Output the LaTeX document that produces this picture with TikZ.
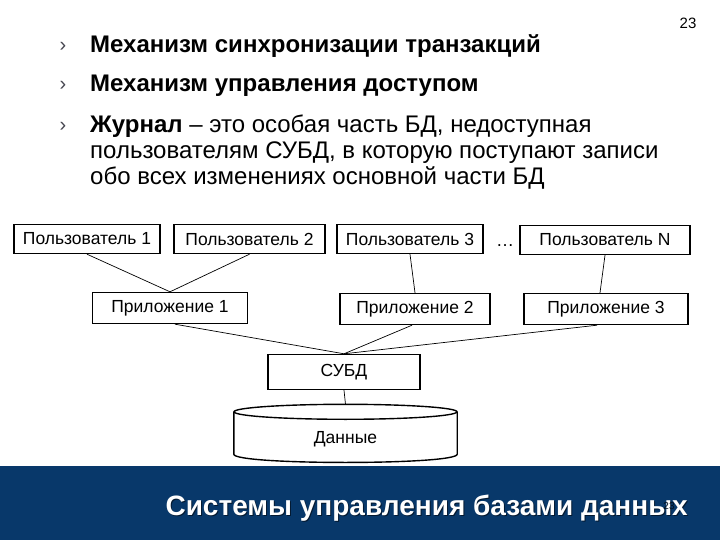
\documentclass[tikz,border=0pt]{standalone}
\usepackage{fontspec}
\setmainfont{Liberation Sans}
\usepackage{xcolor}
\definecolor{footblue}{RGB}{8,56,106}
\definecolor{bulletgrey}{RGB}{70,70,80}

\begin{document}
\begin{tikzpicture}[x=1pt, y=-1pt,
    userbox/.style={draw, line width=1.4pt, minimum width=146pt, minimum height=29pt, inner sep=0pt, font=\fontsize{17.5}{20}\selectfont},
    appbox/.style={userbox, minimum width=155pt, minimum height=31pt},
    link/.style={line width=0.7pt},
    bullet/.style={anchor=base, text=bulletgrey, font=\fontsize{20}{22}\selectfont},
    item/.style={anchor=base west, inner sep=0pt, font=\fontsize{24}{26}\selectfont}
]
    \useasboundingbox (0,0) rectangle (720,540);
    \fill[white] (0,0) rectangle (720,540);

    % page number
    \node[anchor=base, font=\fontsize{15}{16}\selectfont] (pageno) at (688,29) {23};

    % bullet list
    \node[bullet] (b1) at (63,52) {›};
    \node[item] (t1) at (90,53) {\bfseries Механизм синхронизации транзакций};
    \node[bullet] (b2) at (63,91) {›};
    \node[item] (t2) at (90,92) {\bfseries Механизм управления доступом};
    \node[bullet] (b3) at (63,132) {›};
    \node[item] (t3) at (90,133) {\textbf{Журнал} – это особая часть БД, недоступная};
    \node[item] (t4) at (90,159) {пользователям СУБД, в которую поступают записи};
    \node[item] (t5) at (90,185) {обо всех изменениях основной части БД};

    % users
    \node[userbox] (u1) at (87,239)  {Пользователь 1};
    \node[userbox, minimum width=151pt] (u2) at (249.5,239) {Пользователь 2};
    \node[userbox] (u3) at (410,239) {Пользователь 3};
    \node[anchor=base, font=\fontsize{18}{20}\selectfont] (dots) at (505,246) {…};
    \node[userbox, minimum width=170pt] (un) at (605,240) {Пользователь N};

    % applications
    \node[appbox] (a1) at (170,308) {Приложение 1};
    \node[appbox, minimum width=150pt] (a2) at (415,309) {Приложение 2};
    \node[appbox, minimum width=164pt] (a3) at (606,309) {Приложение 3};

    % DBMS and data
    \node[userbox, minimum width=152pt, minimum height=35pt] (dbms) at (344,372) {СУБД};
    \node[minimum width=223pt, minimum height=42pt, inner sep=0pt] (data) at (345.5,433) {};
    \draw[line width=1.4pt] (data.north) ellipse [x radius=111.5pt, y radius=7.5pt];
    \draw[line width=1.4pt] (data.north west) -- (data.south west)
        .. controls ([yshift=-11pt]data.south west) and ([yshift=-11pt]data.south east) .. (data.south east)
        -- (data.north east);
    \node[font=\fontsize{17.5}{20}\selectfont] (datalabel) at ([yshift=-6pt]data.center) {Данные};

    % connections
    \draw[link] (u1.south) -- (a1.north);
    \draw[link] (u2.south) -- (a1.north);
    \draw[link] (u3.south) -- (a2.north);
    \draw[link] (un.south) -- ([xshift=-6pt]a3.north);
    \draw[link] ([xshift=5pt]a1.south) -- (dbms.north);
    \draw[link] ([xshift=-3pt]a2.south) -- (dbms.north);
    \draw[link] ([xshift=-9pt]a3.south) -- (dbms.north);
    \draw[link] (dbms.south) -- ([yshift=7.5pt]data.north);

    % footer
    \fill[footblue] (0,466) rectangle (720,540);
    \node[anchor=base east, inner sep=0pt, text=black!55!footblue, font=\bfseries\fontsize{28}{32}\selectfont] (footshadow) at (689,516) {Системы управления базами данных};
    \node[anchor=base east, inner sep=0pt, text=white, font=\bfseries\fontsize{28}{32}\selectfont] (foottext) at (688,515) {Системы управления базами данных};
    \node[anchor=base, text=black!70!footblue, font=\fontsize{10}{12}\selectfont] (footno) at (669,509) {23};
\end{tikzpicture}
\end{document}
